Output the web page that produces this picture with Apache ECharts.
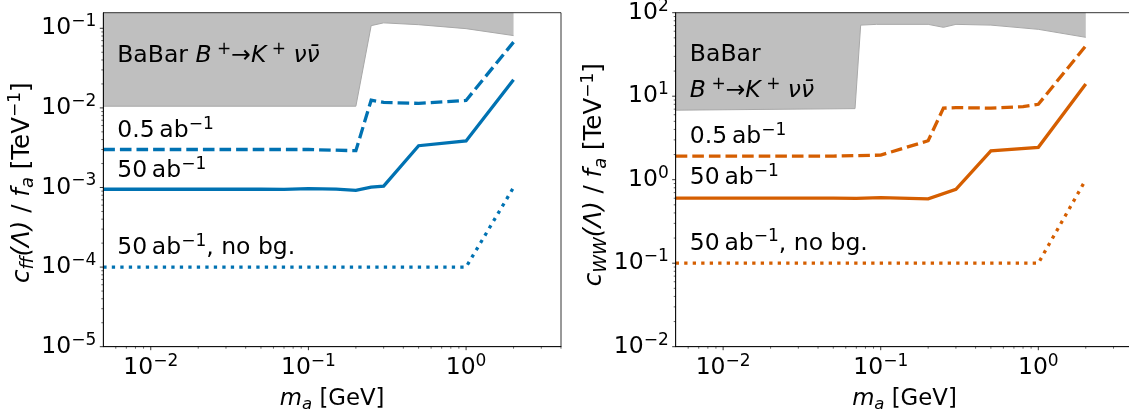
<!DOCTYPE html>
<html><head><meta charset="utf-8">
<script src="https://cdn.jsdelivr.net/npm/echarts@6/dist/echarts.min.js"></script>
<style>html,body{margin:0;padding:0;background:#fff}#c{width:1129px;height:414px}</style>
</head><body><div id="c"></div>
<script>
// ---------------- data ----------------
// left panel: c_ff
const ffBaBar = [[0.005,0.0105],[0.2,0.0105],[0.25,0.108],[0.3,0.117],[0.5,0.111],[1.0,0.099],[2.0,0.081]];
const ff05 = [[0.005,3.0e-3],[0.1,3.0e-3],[0.2,2.9e-3],[0.25,0.0125],[0.3,0.0117],[0.5,0.0114],[1.0,0.0124],[2.0,0.067]];
const ff50 = [[0.005,9.5e-4],[0.02,9.5e-4],[0.05,9.5e-4],[0.07,9.45e-4],[0.1,9.7e-4],[0.15,9.55e-4],[0.2,9.2e-4],[0.25,1.01e-3],[0.3,1.04e-3],[0.5,3.35e-3],[1.0,3.85e-3],[2.0,0.0225]];
const ff50nobg = [[0.005,1e-4],[1.0,1e-4],[2.0,1e-3]];
// right panel: c_WW
const wwBaBar = [[0.005,6.8],[0.0687,7.1],[0.0746,71],[0.094,72.5],[0.2,72.5],[0.25,66.8],[0.3,72.5],[0.5,71],[1.0,63.2],[2.0,50.7]];
const ww05 = [[0.005,1.92],[0.05,1.92],[0.1,1.97],[0.2,2.93],[0.25,7.2],[0.3,7.3],[0.5,7.2],[0.8,7.5],[1.0,8.0],[2.0,40]];
const ww50 = [[0.005,0.6],[0.02,0.6],[0.05,0.6],[0.07,0.598],[0.1,0.61],[0.2,0.59],[0.3,0.767],[0.5,2.22],[1.0,2.44],[2.0,14]];
const ww50nobg = [[0.005,0.1],[1.0,0.1],[2.0,1.0]];

// axis ranges and ticks
const xRange = [0.005, 4];
const ffRange = [1e-5, 0.157];
const wwRange = [1e-2, 100];
const xMajorTicks = [0.01, 0.1, 1];
const ffMajorTicks = [1e-5, 1e-4, 1e-3, 1e-2, 1e-1];
const wwMajorTicks = [1e-2, 1e-1, 1, 10, 100];
const xMinorTicks = [0.006,0.007,0.008,0.009,0.02,0.03,0.04,0.05,0.06,0.07,0.08,0.09,0.2,0.3,0.4,0.5,0.6,0.7,0.8,0.9,2,3,4];
const ffMinorTicks = [2e-5,3e-5,4e-5,5e-5,6e-5,7e-5,8e-5,9e-5,2e-4,3e-4,4e-4,5e-4,6e-4,7e-4,8e-4,9e-4,2e-3,3e-3,4e-3,5e-3,6e-3,7e-3,8e-3,9e-3,0.02,0.03,0.04,0.05,0.06,0.07,0.08,0.09];
const wwMinorTicks = [0.02,0.03,0.04,0.05,0.06,0.07,0.08,0.09,0.2,0.3,0.4,0.5,0.6,0.7,0.8,0.9,2,3,4,5,6,7,8,9,20,30,40,50,60,70,80,90];

// annotation texts (anchored in data coordinates: left edge, vertical middle)
const ffNotes = [[0.00613,0.0445,'babarFull'],[0.00613,5.1e-3,'lumi05'],[0.00613,1.6e-3,'lumi50'],[0.00613,1.72e-4,'nobg']];
const wwNotes = [[0.00615,31.5,'babar'],[0.00615,11.6,'decay'],[0.00615,3.25,'lumi05'],[0.00615,1.05,'lumi50'],[0.00615,0.172,'nobg']];
const noteText = {
  babarFull: '{r|BaBar }{i|B}{s| +}{r|→}{i|K}{s| +}{i| νν\u0304}',
  babar: '{r|BaBar}',
  decay: '{i|B}{s| +}{r|→}{i|K}{s| +}{i| νν\u0304}',
  lumi05: '{r|0.5\u2009ab}{s|−1}',
  lumi50: '{r|50\u2009ab}{s|−1}',
  nobg: '{r|50\u2009ab}{s|−1}{r|, no bg.}'
};
const yNames = [
  '{i|c}{sub|ff}{i|(Λ)}{r| / }{i|f}{sub|a}{r| [TeV}{s|−1}{r|]}',
  '{i|c}{sub|WW}{i|(Λ)}{r| / }{i|f}{sub|a}{r| [TeV}{s|−1}{r|]}'
];
const xName = '{i|m}{sub|a}{r| [GeV]}';

const BLUE = '#0072B2', ORANGE = '#D55E00';
const FONT = 'DejaVu Sans';

const noteRich = {
  r: {fontFamily: FONT, fontSize: 23.5, lineHeight: 30, fill: '#000'},
  i: {fontFamily: FONT, fontSize: 23.5, lineHeight: 30, fontStyle: 'italic', fill: '#000'},
  s: {fontFamily: FONT, fontSize: 17, lineHeight: 17, verticalAlign: 'top', fill: '#000'}
};
function nameRich(fs, subFs) {
  return {
    r: {fontFamily: FONT, fontSize: fs, lineHeight: 30, color: '#000'},
    i: {fontFamily: FONT, fontSize: fs, lineHeight: 30, fontStyle: 'italic', color: '#000'},
    s: {fontFamily: FONT, fontSize: 17, lineHeight: 17, verticalAlign: 'top', color: '#000'},
    sub: {fontFamily: FONT, fontSize: subFs, lineHeight: 16, verticalAlign: 'bottom', fontStyle: 'italic', color: '#000'}
  };
}
const tickRich = {
  b: {fontFamily: FONT, fontSize: 23.5, lineHeight: 30, color: '#000'},
  s: {fontFamily: FONT, fontSize: 17, lineHeight: 17, verticalAlign: 'top', color: '#000'}
};
function pow10Label(v) {
  const e = Math.log10(v), r = Math.round(e);
  if (Math.abs(e - r) > 1e-6) return '';
  return '{b|10}{s|' + (r < 0 ? '−' : '') + Math.abs(r) + '}';
}

const grids = [
  {left: 103.3, top: 12.7, width: 457.7, height: 334},
  {left: 675.7, top: 12.7, width: 457.5, height: 334}
];

function xAxisOf(i) {
  return {
    type: 'log', gridIndex: i, min: xRange[0], max: xRange[1], logBase: 10,
    axisLine: {show: true, lineStyle: {color: '#000', width: 0.8}},
    axisTick: {show: false}, minorTick: {show: false}, splitLine: {show: false},
    axisLabel: {show: true, margin: 6, formatter: pow10Label, rich: tickRich, color: '#000'},
    name: xName, nameLocation: 'middle', nameGap: 37,
    nameTextStyle: {rich: nameRich(22.8, 16.5), color: '#000'}, z: 10
  };
}
function yAxisOf(i, range, nameGap, pad) {
  return {
    type: 'log', gridIndex: i, min: range[0], max: range[1], logBase: 10,
    axisLine: {show: true, lineStyle: {color: '#000', width: 0.8}},
    axisTick: {show: false}, minorTick: {show: false}, splitLine: {show: false},
    axisLabel: {show: true, margin: 7, formatter: pow10Label, rich: tickRich, color: '#000'},
    name: yNames[i], nameLocation: 'middle', nameRotate: 90, nameGap: nameGap,
    nameTextStyle: {rich: nameRich(24.5, 18), color: '#000', padding: pad}, z: 10
  };
}

function tickSeries(i, axis, values, other, len, width) {
  return {
    type: 'custom', xAxisIndex: i, yAxisIndex: i, clip: false, silent: true, z: 11,
    data: values.map(v => axis === 'x' ? [v, other] : [other, v]),
    renderItem: (p, api) => {
      const pt = api.coord([api.value(0), api.value(1)]);
      const shape = axis === 'x'
        ? {x1: pt[0], y1: pt[1], x2: pt[0], y2: pt[1] + len}
        : {x1: pt[0] - len, y1: pt[1], x2: pt[0], y2: pt[1]};
      return {type: 'line', shape: shape, style: {stroke: '#000', lineWidth: width}};
    }
  };
}
function lineSeries(i, data, color, type) {
  return {
    type: 'line', xAxisIndex: i, yAxisIndex: i, data: data, symbol: 'none', showSymbol: false,
    lineStyle: {color: color, width: 3.3, type: type, cap: 'butt', join: 'miter'}, z: 3, silent: true
  };
}
function areaSeries(i, data) {
  return {
    type: 'line', xAxisIndex: i, yAxisIndex: i, data: data, symbol: 'none', showSymbol: false,
    lineStyle: {color: '#a8a8a8', width: 1}, areaStyle: {color: '#bfbfbf', opacity: 1, origin: 'end'},
    z: 1, silent: true
  };
}
function noteSeries(i, notes) {
  return {
    type: 'custom', xAxisIndex: i, yAxisIndex: i, clip: false, silent: true, z: 6,
    data: notes.map(n => [n[0], n[1]]),
    renderItem: (p, api) => {
      const pt = api.coord([api.value(0), api.value(1)]);
      return {
        type: 'text', x: pt[0], y: pt[1],
        style: {text: noteText[notes[p.dataIndex][2]], rich: noteRich, fill: '#000',
                fontFamily: FONT, fontSize: 23.5, align: 'left', verticalAlign: 'middle'}
      };
    }
  };
}

const chart = echarts.init(document.getElementById('c'), null, {renderer: 'canvas'});
chart.setOption({
  animation: false,
  backgroundColor: '#fff',
  textStyle: {color: '#000', fontFamily: FONT},
  grid: grids.map(g => Object.assign({show: true, borderColor: '#000', borderWidth: 0.8, backgroundColor: 'transparent', z: 10, containLabel: false, outerBoundsMode: 'none'}, g)),
  xAxis: [xAxisOf(0), xAxisOf(1)],
  yAxis: [yAxisOf(0, ffRange, 63, [0, 6, 0, 0]), yAxisOf(1, wwRange, 60, [0, 0, 0, 10])],
  series: [
    areaSeries(0, ffBaBar),
    lineSeries(0, ff05, BLUE, [11.6, 5]),
    lineSeries(0, ff50, BLUE, 'solid'),
    lineSeries(0, ff50nobg, BLUE, [3.3, 5.2]),
    noteSeries(0, ffNotes),
    tickSeries(0, 'x', xMajorTicks, ffRange[0], 3.5, 0.8),
    tickSeries(0, 'x', xMinorTicks, ffRange[0], 2, 0.6),
    tickSeries(0, 'y', ffMajorTicks, xRange[0], 3.5, 0.8),
    tickSeries(0, 'y', ffMinorTicks, xRange[0], 2, 0.6),
    areaSeries(1, wwBaBar),
    lineSeries(1, ww05, ORANGE, [11.6, 5]),
    lineSeries(1, ww50, ORANGE, 'solid'),
    lineSeries(1, ww50nobg, ORANGE, [3.3, 5.2]),
    noteSeries(1, wwNotes),
    tickSeries(1, 'x', xMajorTicks, wwRange[0], 3.5, 0.8),
    tickSeries(1, 'x', xMinorTicks, wwRange[0], 2, 0.6),
    tickSeries(1, 'y', wwMajorTicks, xRange[0], 3.5, 0.8),
    tickSeries(1, 'y', wwMinorTicks, xRange[0], 2, 0.6)
  ]
});
</script></body></html>
